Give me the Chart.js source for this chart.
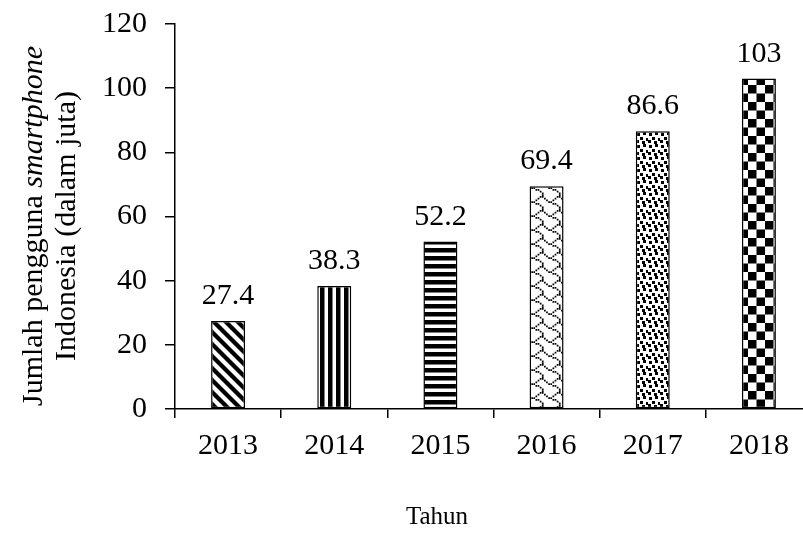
<!DOCTYPE html>
<html>
<head>
<meta charset="utf-8">
<script src="https://cdn.jsdelivr.net/npm/chart.js@4.4.1/dist/chart.umd.min.js"></script>
<style>
  html, body { margin: 0; padding: 0; background: #fff; overflow: hidden; }
  #wrap { width: 812px; height: 534px; }
</style>
</head>
<body>
<div id="wrap"><canvas id="c" width="812" height="534"></canvas></div>
<script>
// Smartphone users in Indonesia (millions), by year
const years = ['2013', '2014', '2015', '2016', '2017', '2018'];
const users = [27.4, 38.3, 52.2, 69.4, 86.6, 103];
const yMin = 0;
const yMax = 120;
const yStep = 20;
const xTitle = 'Tahun';
const yTitleLine1 = ['Jumlah pengguna ', 'smartphone'];
const yTitleLine2 = 'Indonesia (dalam juta)';

const FONT = '"Liberation Serif", "Times New Roman", serif';

function tile(w, h, draw) {
  const c = document.createElement('canvas');
  c.width = w; c.height = h;
  const g = c.getContext('2d');
  g.fillStyle = '#fff';
  g.fillRect(0, 0, w, h);
  g.fillStyle = '#000';
  g.strokeStyle = '#000';
  draw(g, w, h);
  return document.getElementById('c').getContext('2d').createPattern(c, 'repeat');
}

// wide downward diagonal
const pDiag = tile(12, 12, (g, w, h) => {
  g.lineWidth = 4.2;
  for (let k = -1; k <= 1; k++) {
    g.beginPath();
    g.moveTo(k * w - 2, -2);
    g.lineTo(k * w + w + 2, h + 2);
    g.stroke();
  }
});
// dark vertical
const pVert = tile(8, 8, (g) => { g.fillRect(0, 0, 4.5, 8); });
// dark horizontal
const pHorz = tile(8, 8, (g) => { g.fillRect(0, 0, 8, 4.5); });
// shingle, from an 8x8 bit mask
const shingleRows = [0x03, 0x84, 0x48, 0x30, 0x0C, 0x02, 0x01, 0x01];
const pShingle = tile(17, 14, (g) => {
  const cw = 17 / 8, ch = 14 / 8;
  shingleRows.forEach((row, r) => {
    for (let b = 0; b < 8; b++) {
      if (row & (0x80 >> b)) g.fillRect(b * cw, r * ch, cw * 0.8, ch);
    }
  });
});
// large confetti
const pConfetti = tile(12, 12, (g) => {
  [[1, 1], [7, 0], [4, 5], [10, 6], [0, 8], [6, 9]].forEach(([x, y]) => g.fillRect(x, y, 3, 3));
});
// large checker board
const pChecker = tile(17, 17, (g) => {
  g.fillRect(0, 0, 8.5, 8.5);
  g.fillRect(8.5, 8.5, 8.5, 8.5);
});
const patterns = [pDiag, pVert, pHorz, pShingle, pConfetti, pChecker];

const valueLabels = {
  id: 'valueLabels',
  afterDatasetsDraw(chart) {
    const ctx = chart.ctx;
    const meta = chart.getDatasetMeta(0);
    ctx.save();
    ctx.font = '30px ' + FONT;
    ctx.fillStyle = '#000';
    ctx.textAlign = 'center';
    ctx.textBaseline = 'alphabetic';
    meta.data.forEach((bar, i) => {
      ctx.fillText(String(users[i]), bar.x, bar.y - 17);
    });
    ctx.restore();
  }
};

const axisTitles = {
  id: 'axisTitles',
  afterDraw(chart) {
    const ctx = chart.ctx;
    ctx.save();
    ctx.fillStyle = '#000';
    ctx.textBaseline = 'alphabetic';
    // x title
    ctx.font = '25px ' + FONT;
    ctx.textAlign = 'center';
    ctx.fillText(xTitle, 437, 524);
    // y title, two rotated lines
    ctx.translate(0, 226);
    ctx.rotate(-Math.PI / 2);
    ctx.textAlign = 'left';
    const normal = '30px ' + FONT;
    const italic = 'italic 30px ' + FONT;
    ctx.font = normal;
    const w1 = ctx.measureText(yTitleLine1[0]).width;
    ctx.font = italic;
    const w2 = ctx.measureText(yTitleLine1[1]).width;
    const x0 = -(w1 + w2) / 2;
    ctx.font = normal;
    ctx.fillText(yTitleLine1[0], x0, 42);
    ctx.font = italic;
    ctx.fillText(yTitleLine1[1], x0 + w1, 42);
    ctx.font = normal;
    ctx.textAlign = 'center';
    ctx.fillText(yTitleLine2, 0, 75);
    ctx.restore();
  }
};

new Chart(document.getElementById('c'), {
  type: 'bar',
  data: {
    labels: years,
    datasets: [{
      data: users,
      backgroundColor: patterns,
      borderColor: '#000',
      borderWidth: 1.5,
      borderSkipped: false,
      barPercentage: 0.32,
      categoryPercentage: 1
    }]
  },
  options: {
    responsive: false,
    animation: false,
    devicePixelRatio: 1,
    layout: { padding: { top: 24, left: 0, right: 0, bottom: 0 } },
    plugins: { legend: { display: false }, tooltip: { enabled: false } },
    scales: {
      x: {
        afterFit(scale) { scale.height = 125; },
        grid: { display: true, offset: true, drawOnChartArea: false, drawTicks: true, tickLength: 9, color: '#000', lineWidth: 1.5 },
        border: { display: true, color: '#000', width: 1.5 },
        ticks: { color: '#000', font: { family: FONT, size: 30 }, padding: 10, maxRotation: 0 }
      },
      y: {
        min: yMin,
        max: yMax,
        afterFit(scale) {
          scale.width = 175;
          scale.paddingTop = 0;
          scale.paddingBottom = 0;
        },
        grid: { display: true, drawOnChartArea: false, drawTicks: true, tickLength: 10, color: '#000', lineWidth: 1.5 },
        border: { display: true, color: '#000', width: 1.5 },
        ticks: { stepSize: yStep, color: '#000', font: { family: FONT, size: 30 }, padding: 18 }
      }
    }
  },
  plugins: [valueLabels, axisTitles]
});
</script>
</body>
</html>
